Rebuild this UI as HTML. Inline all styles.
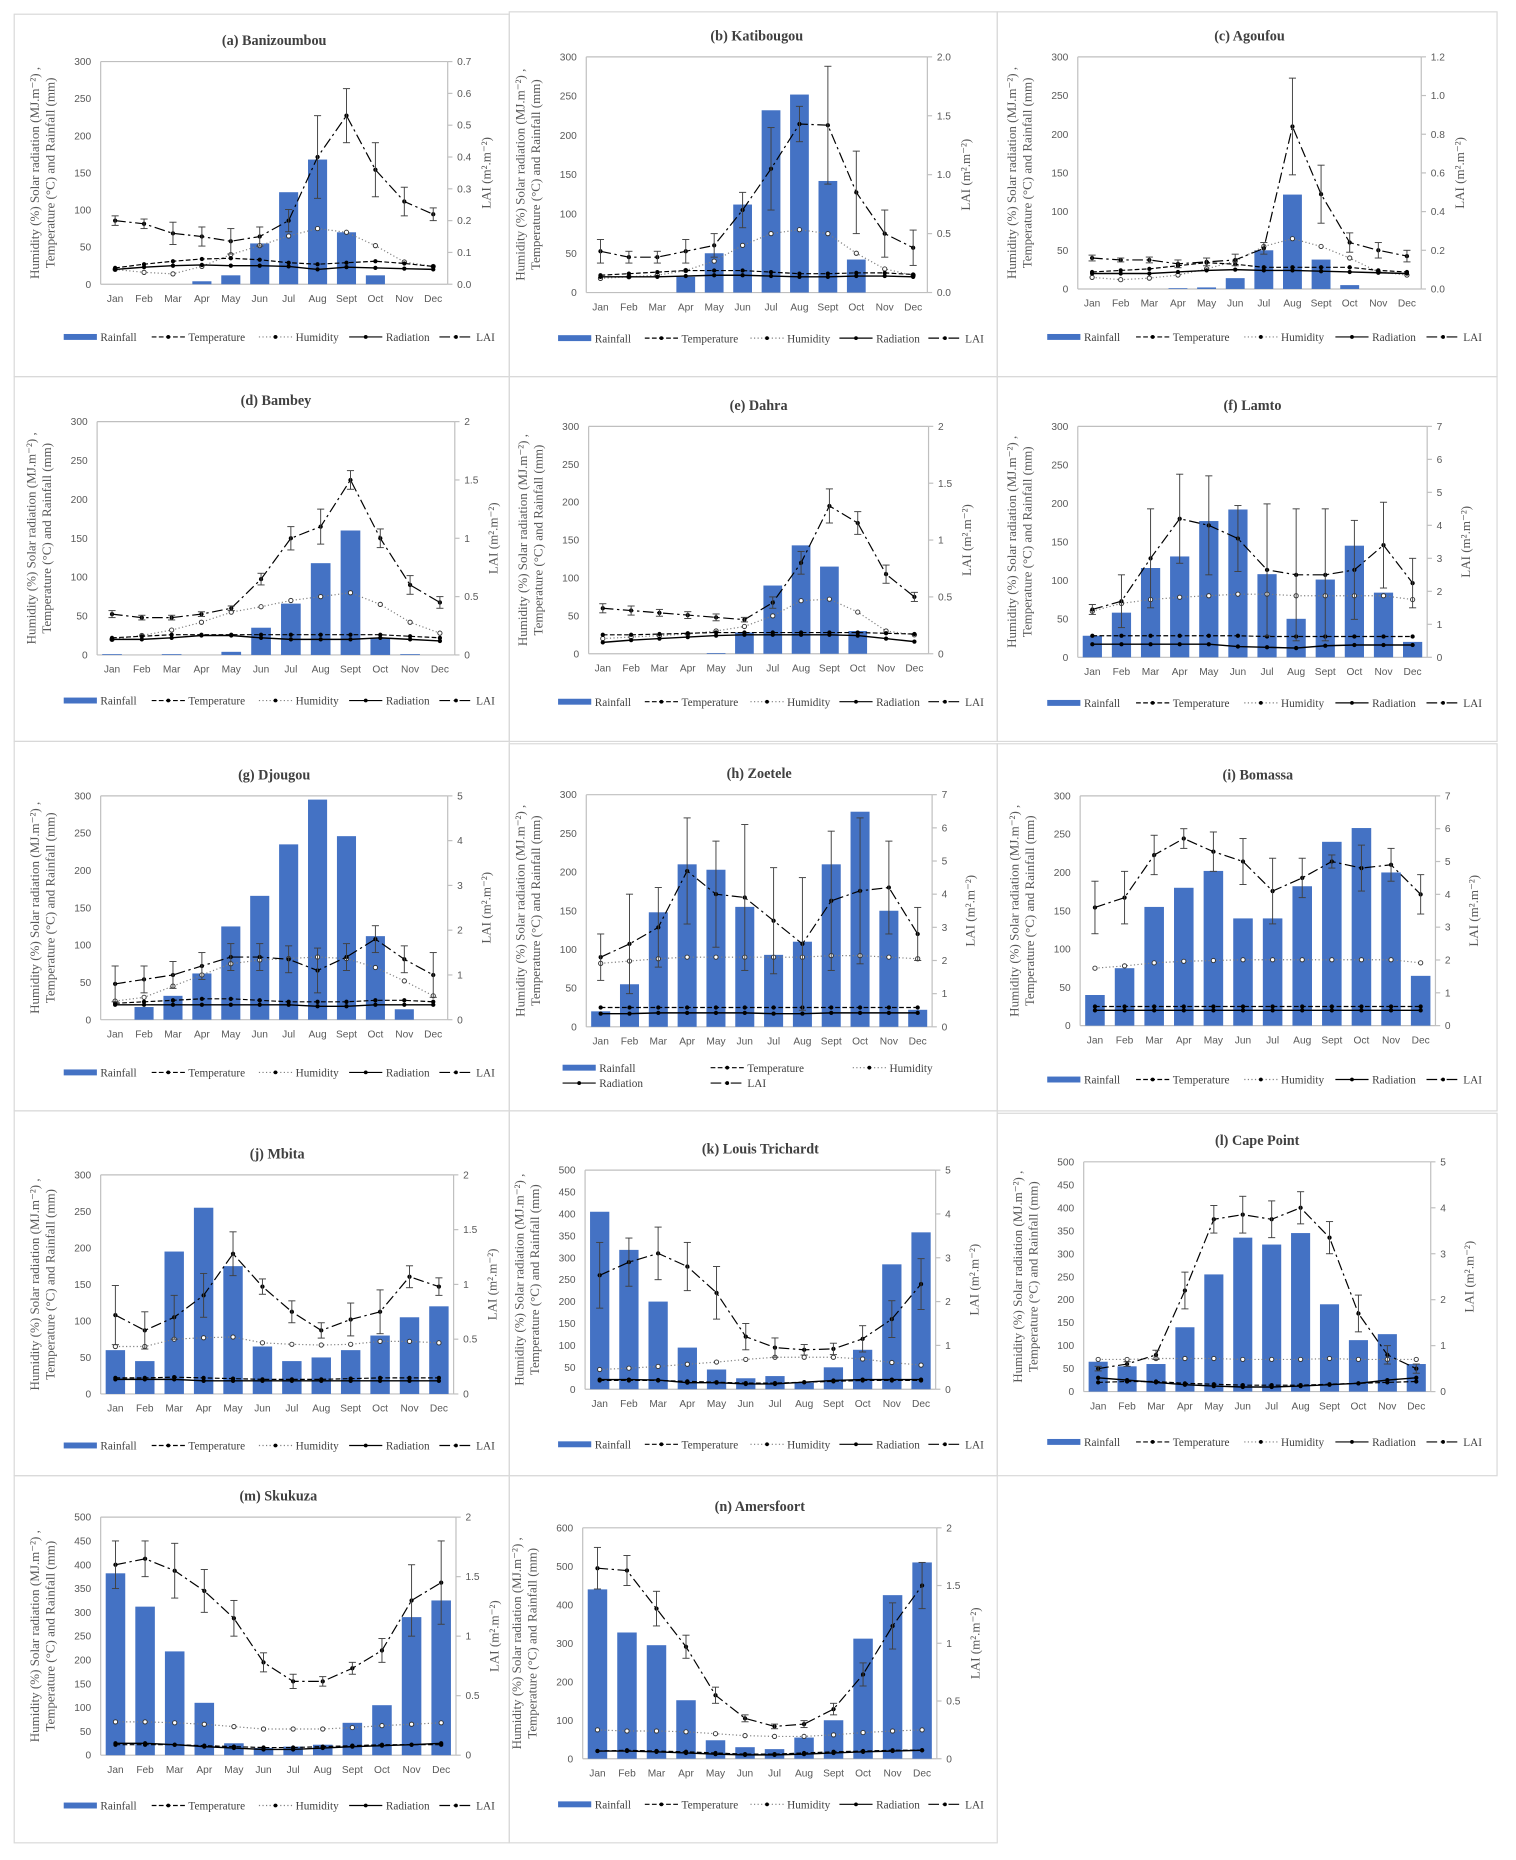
<!DOCTYPE html>
<html><head><meta charset="utf-8"><style>
html,body{margin:0;padding:0;background:#fff}
svg{display:block}
.tk{font-family:"Liberation Sans",sans-serif;font-size:8.6px;fill:#595959}
.ttl{font-family:"Liberation Serif",serif;font-size:12px;font-weight:bold;fill:#404040}
.ax{font-family:"Liberation Serif",serif;font-size:11px;fill:#595959}
.lg{font-family:"Liberation Serif",serif;font-size:9.5px;fill:#404040}
</style></head><body>
<svg id="fig" width="1516" height="1860" viewBox="0 0 1280 1570.5" preserveAspectRatio="none" xmlns="http://www.w3.org/2000/svg"></svg>
<script>
const months=["Jan","Feb","Mar","Apr","May","Jun","Jul","Aug","Sept","Oct","Nov","Dec"];
// (a) Banizoumbou
const rainA=[0,0,0,4,12,55,124,168,70,12,0,0];
const tempA=[22,27,31,34,35,33,29,27,29,31,28,24];
const humA=[20,16,14,24,40,52,65,75,70,52,30,24];
const radA=[20,23,25,26,25,25,24,20,23,22,21,20];
const laiA=[0.2,0.19,0.16,0.15,0.135,0.15,0.2,0.4,0.53,0.36,0.26,0.22];
const errA=[0.015,0.015,0.035,0.03,0.04,0.03,0.035,0.13,0.085,0.085,0.045,0.02];
// (b) Katibougou
const rainB=[0,0,0,20,50,112,232,252,142,42,0,0];
const tempB=[22,24,26,28,28,28,26,24,24,25,25,23];
const humB=[18,20,22,28,40,60,75,80,75,50,30,22];
const radB=[20,20,20,21,22,22,21,20,20,21,21,20];
const laiB=[0.35,0.3,0.3,0.35,0.4,0.7,1.05,1.43,1.42,0.85,0.5,0.38];
const errB=[0.1,0.05,0.05,0.1,0.1,0.15,0.35,0.15,0.5,0.35,0.2,0.15];
// (c) Agoufou
const rainC=[0,0,0,1,2,14,50,122,38,5,0,0];
const tempC=[22,24,26,30,34,32,28,28,28,28,24,22];
const humC=[15,12,14,18,26,36,55,65,55,40,22,18];
const radC=[20,20,20,22,24,25,24,24,23,22,21,20];
const laiC=[0.16,0.15,0.15,0.13,0.14,0.15,0.21,0.84,0.49,0.24,0.2,0.17];
const errC=[0.015,0.01,0.015,0.02,0.02,0.03,0.03,0.25,0.15,0.05,0.04,0.03];
// (d) Bambey
const rainD=[1,0,1,0,4,35,66,118,160,22,1,0];
const tempD=[22,24,26,26,26,26,26,26,26,26,24,22];
const humD=[20,25,32,42,55,62,70,75,80,65,42,28];
const radD=[20,20,22,25,25,22,20,20,20,22,20,18];
const laiD=[0.35,0.32,0.32,0.35,0.4,0.65,1.0,1.1,1.5,1.0,0.6,0.45];
const errD=[0.03,0.02,0.02,0.02,0.02,0.05,0.1,0.15,0.08,0.08,0.08,0.05];
// (e) Dahra
const rainE=[0,0,0,0,1,28,90,143,115,30,0,0];
const tempE=[25,25,26,27,28,28,28,28,28,28,27,26];
const humE=[20,22,24,26,30,36,50,70,72,55,30,25];
const radE=[15,18,20,22,24,25,25,25,25,24,20,16];
const laiE=[0.4,0.38,0.36,0.34,0.32,0.3,0.45,0.8,1.3,1.15,0.7,0.5];
const errE=[0.04,0.04,0.03,0.03,0.03,0.02,0.05,0.1,0.15,0.1,0.08,0.04];
// (f) Lamto
const rainF=[28,58,116,131,177,192,108,50,101,145,84,20];
const tempF=[28,28,28,28,28,28,27,27,27,27,27,27];
const humF=[60,70,75,78,80,82,82,80,80,80,80,75];
const radF=[17,17,17,17,17,14,13,12,15,16,16,16];
const laiF=[1.45,1.7,3.0,4.2,4.0,3.6,2.65,2.5,2.5,2.65,3.4,2.25];
const errF=[0.15,0.8,1.5,1.35,1.5,1.0,2.0,2.0,2.0,1.5,1.3,0.75];
// (g) Djougou
const rainG=[0,17,32,62,125,166,235,295,246,112,14,0];
const tempG=[22,24,26,28,28,26,24,24,24,26,26,24];
const humG=[25,30,45,60,75,80,82,84,82,70,52,32];
const radG=[20,20,20,20,20,20,20,18,18,20,20,20];
const laiG=[0.8,0.9,1.0,1.2,1.4,1.4,1.35,1.1,1.4,1.8,1.35,1.0];
const errG=[0.4,0.3,0.3,0.3,0.3,0.3,0.3,0.5,0.3,0.3,0.3,0.5];
// (h) Zoetele
const rainH=[20,55,148,210,203,155,93,110,210,278,150,22];
const tempH=[25,25,25,25,25,25,25,25,25,25,25,25];
const humH=[82,85,88,90,90,90,90,90,92,92,90,88];
const radH=[17,17,18,18,18,18,17,17,18,18,18,18];
const laiH=[2.1,2.5,3.0,4.7,4.0,3.9,3.2,2.5,3.8,4.1,4.2,2.8];
const errH=[0.7,1.5,1.2,1.6,1.6,2.2,1.6,2.0,2.1,2.2,1.4,0.8];
// (i) Bomassa
const rainI=[40,75,155,180,202,140,140,182,240,258,200,65];
const tempI=[25,25,25,25,25,25,25,25,25,25,25,25];
const humI=[75,78,82,84,85,86,86,86,86,86,86,82];
const radI=[20,20,20,20,20,20,20,20,20,20,20,20];
const laiI=[3.6,3.9,5.2,5.7,5.3,5.0,4.1,4.5,5.0,4.8,4.9,4.0];
const errI=[0.8,0.8,0.6,0.3,0.6,0.7,1.0,0.6,0.2,0.7,0.5,0.6];
// (j) Mbita
const rainJ=[60,45,195,255,175,65,45,50,60,80,105,120];
const tempJ=[22,22,23,22,21,20,20,20,21,22,22,22];
const humJ=[65,65,75,77,78,70,68,67,68,72,72,70];
const radJ=[20,20,20,18,18,18,18,18,18,18,18,18];
const laiJ=[0.72,0.58,0.7,0.9,1.28,0.98,0.75,0.58,0.68,0.75,1.07,0.98];
const errJ=[0.27,0.17,0.2,0.2,0.2,0.07,0.1,0.07,0.15,0.2,0.1,0.08];
// (k) Louis Trichardt
const rainK=[405,318,200,95,45,25,30,15,50,90,285,358];
const tempK=[20,20,20,18,16,14,14,16,18,20,20,20];
const humK=[45,48,52,57,62,68,73,73,73,69,61,55];
const radK=[22,22,21,15,15,12,12,16,20,22,22,22];
const laiK=[2.6,2.9,3.1,2.8,2.2,1.2,0.95,0.9,0.92,1.15,1.6,2.4];
const errK=[0.75,0.55,0.6,0.55,0.6,0.3,0.22,0.12,0.13,0.3,0.42,0.58];
// (l) Cape Point
const rainL=[65,55,60,140,255,335,320,345,190,112,125,60];
const tempL=[20,22,22,18,16,14,14,14,16,18,20,22];
const humL=[70,70,72,72,72,70,70,70,72,70,70,70];
const radL=[30,25,20,15,12,10,10,12,15,18,25,30];
const laiL=[0.5,0.6,0.8,2.2,3.75,3.85,3.75,4.0,3.35,1.7,0.8,0.5];
const errL=[0.05,0.05,0.1,0.4,0.3,0.4,0.4,0.35,0.35,0.4,0.2,0.1];
// (m) Skukuza
const rainM=[382,312,218,110,25,15,18,22,68,105,290,325];
const tempM=[22,22,22,20,18,16,16,18,20,22,22,22];
const humM=[70,70,68,65,60,55,55,55,58,62,65,68];
const radM=[25,25,22,18,15,12,12,15,18,20,22,25];
const laiM=[1.6,1.65,1.55,1.38,1.15,0.78,0.62,0.62,0.73,0.88,1.3,1.45];
const errM=[0.2,0.15,0.23,0.18,0.15,0.08,0.06,0.04,0.05,0.1,0.3,0.35];
// (n) Amersfoort
const rainN=[440,328,295,152,48,30,25,55,100,312,425,510];
const tempN=[20,22,20,18,15,12,12,15,18,20,22,22];
const humN=[75,72,72,70,65,60,58,58,62,68,72,75];
const radN=[20,20,18,15,12,10,10,12,15,18,20,22];
const laiN=[1.65,1.63,1.3,0.97,0.55,0.35,0.28,0.3,0.43,0.73,1.15,1.5];
const errN=[0.18,0.13,0.15,0.1,0.07,0.03,0.02,0.03,0.05,0.1,0.2,0.2];

const NS="http://www.w3.org/2000/svg";
const svg=document.getElementById('fig');
function mk(tag,attrs,parent,text){const e=document.createElementNS(NS,tag);for(const k in attrs)e.setAttribute(k,attrs[k]);if(text!==undefined)e.textContent=text;(parent||svg).appendChild(e);return e;}

const panels=[
 {id:'a',t:'(a) Banizoumbou',box:[12,12,418,306],p:[85,52,378,240],lmax:300,lstep:50,rmax:0.7,rstep:0.1,rdec:1,leg:287,d:[rainA,tempA,humA,radA,laiA,errA]},
 {id:'b',t:'(b) Katibougou',box:[430,10,412,308],p:[495,48,783,247],lmax:300,lstep:50,rmax:2,rstep:0.5,rdec:1,leg:288,d:[rainB,tempB,humB,radB,laiB,errB]},
 {id:'c',t:'(c) Agoufou',box:[842,10,422,308],p:[910,48,1200,244],lmax:300,lstep:50,rmax:1.2,rstep:0.2,rdec:1,leg:287,d:[rainC,tempC,humC,radC,laiC,errC]},
 {id:'d',t:'(d) Bambey',box:[12,318,418,308],p:[82,356,384,553],lmax:300,lstep:50,rmax:2,rstep:0.5,rdec:-1,leg:594,d:[rainD,tempD,humD,radD,laiD,errD]},
 {id:'e',t:'(e) Dahra',box:[430,318,412,308],p:[497,360,784,552],lmax:300,lstep:50,rmax:2,rstep:0.5,rdec:-1,leg:595,d:[rainE,tempE,humE,radE,laiE,errE]},
 {id:'f',t:'(f) Lamto',box:[842,318,422,308],p:[910,360,1205,555],lmax:300,lstep:50,rmax:7,rstep:1,rdec:0,leg:596,d:[rainF,tempF,humF,radF,laiF,errF]},
 {id:'g',t:'(g) Djougou',box:[12,626,418,312],p:[85,672,378,861],lmax:300,lstep:50,rmax:5,rstep:1,rdec:0,leg:908,d:[rainG,tempG,humG,radG,laiG,errG]},
 {id:'h',t:'(h) Zoetele',box:[430,628,412,310],p:[495,671,787,867],lmax:300,lstep:50,rmax:7,rstep:1,rdec:0,leg:904,two:true,d:[rainH,tempH,humH,radH,laiH,errH]},
 {id:'i',t:'(i) Bomassa',box:[842,628,422,310],p:[912,672,1212,866],lmax:300,lstep:50,rmax:7,rstep:1,rdec:0,leg:914,d:[rainI,tempI,humI,radI,laiI,errI]},
 {id:'j',t:'(j) Mbita',box:[12,938,418,308],p:[85,992,383,1177],lmax:300,lstep:50,rmax:2,rstep:0.5,rdec:-1,leg:1223,d:[rainJ,tempJ,humJ,radJ,laiJ,errJ]},
 {id:'k',t:'(k) Louis Trichardt',box:[430,938,412,308],p:[494,988,790,1173],lmax:500,lstep:50,rmax:5,rstep:1,rdec:0,leg:1222,d:[rainK,tempK,humK,radK,laiK,errK]},
 {id:'l',t:'(l) Cape Point',box:[842,940,422,306],p:[915,981,1208,1175],lmax:500,lstep:50,rmax:5,rstep:1,rdec:0,leg:1220,d:[rainL,tempL,humL,radL,laiL,errL]},
 {id:'m',t:'(m) Skukuza',box:[12,1246,418,310],p:[85,1281,385,1482],lmax:500,lstep:50,rmax:2,rstep:0.5,rdec:-1,leg:1527,d:[rainM,tempM,humM,radM,laiM,errM]},
 {id:'n',t:'(n) Amersfoort',box:[430,1246,412,310],p:[492,1290,791,1485],lmax:600,lstep:100,rmax:2,rstep:0.5,rdec:-1,leg:1526,d:[rainN,tempN,humN,radN,laiN,errN]}
];

function fmtR(v,dec){if(dec<0){return String(Math.round(v*10)/10);}return v.toFixed(dec);}

panels.forEach(P=>{
  const g=mk('g',{});
  mk('rect',{x:P.box[0],y:P.box[1],width:P.box[2],height:P.box[3],fill:'none',stroke:'#d9d9d9','stroke-width':1},g);
  const [x0,y0,x1,y1]=P.p;
  const cx=(x0+x1)/2;
  const t=mk('text',{x:cx,y:y0-14,'text-anchor':'middle',class:'ttl'},g,P.t);
  
  
  const yL=v=>y1-(v/P.lmax)*(y1-y0);
  const yR=v=>y1-(v/P.rmax)*(y1-y0);
  const bw=(x1-x0)/12;
  const xC=i=>x0+bw*(i+0.5);
  mk('line',{x1:x0,y1:y0,x2:x0,y2:y1,stroke:'#bfbfbf'},g);
  mk('line',{x1:x0,y1:y1,x2:x1,y2:y1,stroke:'#bfbfbf'},g);
  mk('line',{x1:x1,y1:y0,x2:x1,y2:y1,stroke:'#bfbfbf'},g);
  mk('line',{x1:x0,y1:y0,x2:x1,y2:y0,stroke:'#bfbfbf'},g);
  const la=mk('g',{},g);
  
  
  for(let v=0;v<=P.lmax+1e-9;v+=P.lstep){
    mk('text',{x:x0-8,y:yL(v)+3,'text-anchor':'end',class:'tk'},la,String(v));
  }
  const ra=mk('g',{},g);
  
  
  const nR=Math.round(P.rmax/P.rstep);
  for(let k=0;k<=nR;k++){
    const v=k*P.rstep;
    mk('line',{x1:x1,y1:yR(v),x2:x1+4,y2:yR(v),stroke:'#bfbfbf'},ra);
    mk('text',{x:x1+8,y:yR(v)+3,class:'tk'},ra,fmtR(v,P.rdec));
  }
  months.forEach((m,i)=>{
    const tx=mk('text',{x:xC(i),y:y1+15,'text-anchor':'middle',class:'tk'},g,m);
    
    
  });
  const ay=(y0+y1)/2;
  const at=mk('text',{transform:`translate(${x0-52},${ay}) rotate(-90)`,'text-anchor':'middle',class:'ax'},g);
  
  
  mk('tspan',{x:0,dy:0},at,'Humidity (%) Solar radiation (MJ.m⁻²) ,');
  mk('tspan',{x:0,dy:13},at,'Temperature (°C)  and Rainfall (mm)');
  const rt=mk('text',{transform:`translate(${x1+36},${ay}) rotate(-90)`,'text-anchor':'middle',class:'ax'},g,'LAI (m².m⁻²)');
  
  
  const [rain,temp,hum,rad,lai,err]=P.d;
  rain.forEach((v,i)=>{
    const b=mk('rect',{x:xC(i)-bw*0.33,y:yL(v),width:bw*0.66,height:Math.max(0,y1-yL(v)),fill:'#4472c4'},g);
    
    
  });
  function series(arr,yf,dash,name,hollow,w){
    const sg=mk('g',{},g);
    
    
    const pts=arr.map((v,i)=>xC(i)+','+yf(v)).join(' ');
    const a={points:pts,fill:'none',stroke:dash==='1,2'?'#7f7f7f':'#000','stroke-width':w||1};
    if(dash)a['stroke-dasharray']=dash;
    mk('polyline',a,sg);
    arr.forEach((v,i)=>{
      if(hollow)mk('circle',{cx:xC(i),cy:yf(v),r:1.8,fill:'#fff',stroke:'#333','stroke-width':0.8},sg);
      else mk('circle',{cx:xC(i),cy:yf(v),r:1.8,fill:'#000'},sg);
    });
    return sg;
  }
  series(hum,yL,'1,2','humidity',true);
  series(temp,yL,'4,2','temperature',false);
  series(rad,yL,null,'radiation',false,1.2);
  const ls=series(lai,yR,'9,3,2,3','lai',false);
  lai.forEach((v,i)=>{
    const e=err[i];const xx=xC(i);
    const ya=yR(Math.min(P.rmax*1.05,v+e)), yb=yR(Math.max(0,v-e));
    const eg=mk('g',{},ls);
    
    
    mk('line',{x1:xx,y1:ya,x2:xx,y2:yb,stroke:'#404040','stroke-width':0.8},eg);
    mk('line',{x1:xx-3,y1:ya,x2:xx+3,y2:ya,stroke:'#404040','stroke-width':0.8},eg);
    mk('line',{x1:xx-3,y1:yb,x2:xx+3,y2:yb,stroke:'#404040','stroke-width':0.8},eg);
  });
  const lg=mk('g',{},g);
  
  
  const items=[['Rainfall','bar'],['Temperature','4,2'],['Humidity','1,2'],['Radiation',null],['LAI','9,3,2,3']];
  const bx=P.box[0], bwid=P.box[2];
  let pos;
  if(P.two){
    pos=[[bx+45,P.leg],[bx+170,P.leg],[bx+290,P.leg],[bx+45,P.leg+13],[bx+170,P.leg+13]];
  } else {
    const startX=bx+bwid*0.1, span=bwid*0.85;
    const widths=[78,95,80,80,40];const tot=widths.reduce((a,b)=>a+b,0);
    let acc=startX;pos=[];
    widths.forEach(wd=>{pos.push([acc,P.leg]);acc+=wd/tot*span;});
  }
  items.forEach((it,k)=>{
    const [lx,ly]=pos[k];
    const ig=mk('g',{},lg);
    
    
    if(it[1]==='bar'){mk('rect',{x:lx,y:ly-5,width:28,height:5,fill:'#4472c4'},ig);}
    else{
      const a={x1:lx,y1:ly-2.5,x2:lx+28,y2:ly-2.5,stroke:it[1]==='1,2'?'#7f7f7f':'#000','stroke-width':1};
      if(it[1])a['stroke-dasharray']=it[1];
      mk('line',a,ig);
      mk('circle',{cx:lx+14,cy:ly-2.5,r:1.6,fill:'#000'},ig);
    }
    mk('text',{x:lx+31,y:ly+1,class:'lg'},ig,it[0]);
  });
});
</script>
</body></html>
